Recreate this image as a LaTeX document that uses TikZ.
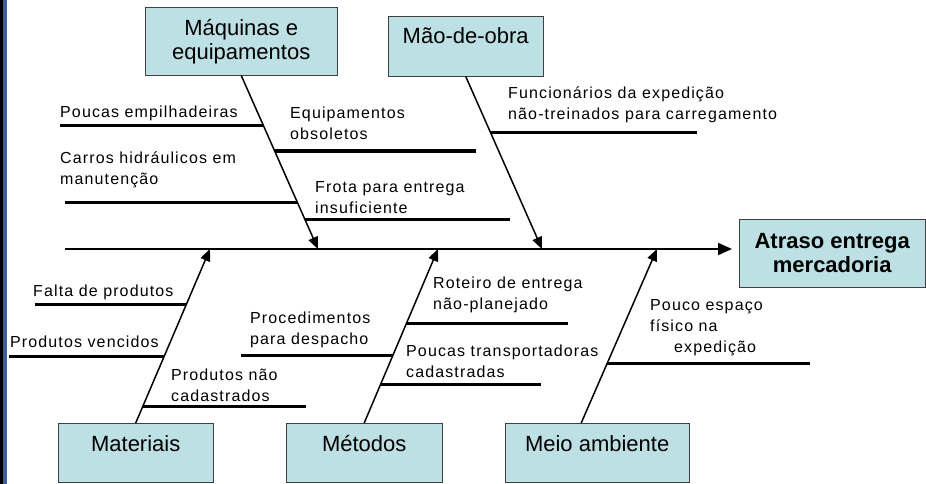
\documentclass[tikz,border=0pt]{standalone}
\usepackage{fontspec}
\setmainfont{Liberation Sans}
\usetikzlibrary{arrows.meta}
\definecolor{boxcyan}{HTML}{BCE0E4}
\definecolor{edgeblue}{HTML}{3D5F96}
\def\causefont{\fontsize{16}{21}\selectfont\addfontfeature{LetterSpace=7}}
\def\boxfont{\fontsize{22}{24}\selectfont}

\begin{document}
\begin{tikzpicture}[
    x=1pt, y=-1pt,
    box/.style={draw=black!75, fill=boxcyan, inner sep=0pt, align=center, font=\boxfont},
    cause/.style={anchor=south west, inner sep=0pt, align=left, font=\causefont, execute at end node=\strut},
    rib/.style={line width=1.5pt, -{Triangle[length=12pt,width=10pt]}},
    bar/.style={line width=3pt},
    spine/.style={line width=2pt, -{Triangle[length=14pt,width=12pt]}}
  ]
  \useasboundingbox (0,0) rectangle (926,484);
  \fill[black] (0,0) rectangle (3,484);
  \fill[edgeblue] (3,0) rectangle (7,484);

  \node[box, anchor=north west, minimum width=192pt, minimum height=68pt] (maq) at (145,7) {Máquinas e\\equipamentos};
  \node[box, anchor=north west, minimum width=155pt, text height=27pt, text depth=33pt] (mao) at (388,16) {Mão-de-obra};
  \node[box, anchor=north west, minimum width=186pt, minimum height=68pt, font=\boxfont\bfseries] (efeito) at (739,219) {Atraso entrega\\mercadoria};
  \node[box, anchor=north west, minimum width=155pt, text height=28pt, text depth=31pt] (mat) at (58,423) {Materiais};
  \node[box, anchor=north west, minimum width=156pt, text height=28pt, text depth=31pt] (met) at (286,423) {Métodos};
  \node[box, anchor=north west, minimum width=184pt, text height=28pt, text depth=31pt] (meio) at (505,423) {Meio ambiente};

  \coordinate (tail) at (65,249);
  \draw[spine, shorten >=7pt] (tail) -- (tail -| efeito.west);

  \coordinate (s1) at (318,249);
  \coordinate (s2) at (542,249);
  \coordinate (s3) at (210,249);
  \coordinate (s4) at (438,249);
  \coordinate (s5) at (657,249);
  \draw[rib] (maq.south) -- (s1);
  \draw[rib] (mao.south) -- (s2);
  \draw[rib] (mat.north) -- (s3);
  \draw[rib] (met.north) -- (s4);
  \draw[rib] ([xshift=-16pt]meio.north) -- (s5);

  \coordinate (b1l) at (60,126);  \coordinate (b1r) at (264,126);
  \coordinate (b2l) at (65,202);  \coordinate (b2r) at (297,202);
  \coordinate (b3l) at (275,151); \coordinate (b3r) at (476,151);
  \coordinate (b4l) at (305,219); \coordinate (b4r) at (510,219);
  \coordinate (b5l) at (491,133); \coordinate (b5r) at (697,133);
  \coordinate (b6l) at (35,304);  \coordinate (b6r) at (186,304);
  \coordinate (b7l) at (9,356);   \coordinate (b7r) at (164,356);
  \coordinate (b8l) at (143,406); \coordinate (b8r) at (306,406);
  \coordinate (b9l) at (241,355); \coordinate (b9r) at (393,355);
  \coordinate (b10l) at (406,323); \coordinate (b10r) at (568,323);
  \coordinate (b11l) at (380,384); \coordinate (b11r) at (541,384);
  \coordinate (b12l) at (607,363); \coordinate (b12r) at (810,363);
  \draw[bar] (b1l) -- (b1r);
  \draw[bar] (b2l) -- (b2r);
  \draw[bar] (b3l) -- (b3r);
  \draw[bar] (b4l) -- (b4r);
  \draw[bar] (b5l) -- (b5r);
  \draw[bar] (b6l) -- (b6r);
  \draw[bar] (b7l) -- (b7r);
  \draw[bar] (b8l) -- (b8r);
  \draw[bar] (b9l) -- (b9r);
  \draw[bar] (b10l) -- (b10r);
  \draw[bar] (b11l) -- (b11r);
  \draw[bar] (b12l) -- (b12r);

  \node[cause] (c1) at (60,124) {Poucas empilhadeiras};
  \node[cause] (c2) at (60,191) {Carros hidráulicos em\\manutenção};
  \node[cause] (c3) at (290,146) {Equipamentos\\obsoletos};
  \node[cause] (c4) at (315,220) {Frota para entrega\\insuficiente};
  \node[cause] (c5) at (508,126) {Funcionários da expedição\\não-treinados para carregamento};
  \node[cause] (c6) at (33,303) {Falta de produtos};
  \node[cause] (c7) at (10,354) {Produtos vencidos};
  \node[cause] (c8) at (171,408) {Produtos não\\cadastrados};
  \node[cause] (c9) at (250,351) {Procedimentos\\para despacho};
  \node[cause] (c10) at (433,316) {Roteiro de entrega\\não-planejado};
  \node[cause] (c11) at (406,384) {Poucas transportadoras\\cadastradas};
  \node[cause] (c12) at (650,359) {Pouco espaço\\físico na\\\hspace*{24pt}expedição};
\end{tikzpicture}
\end{document}
